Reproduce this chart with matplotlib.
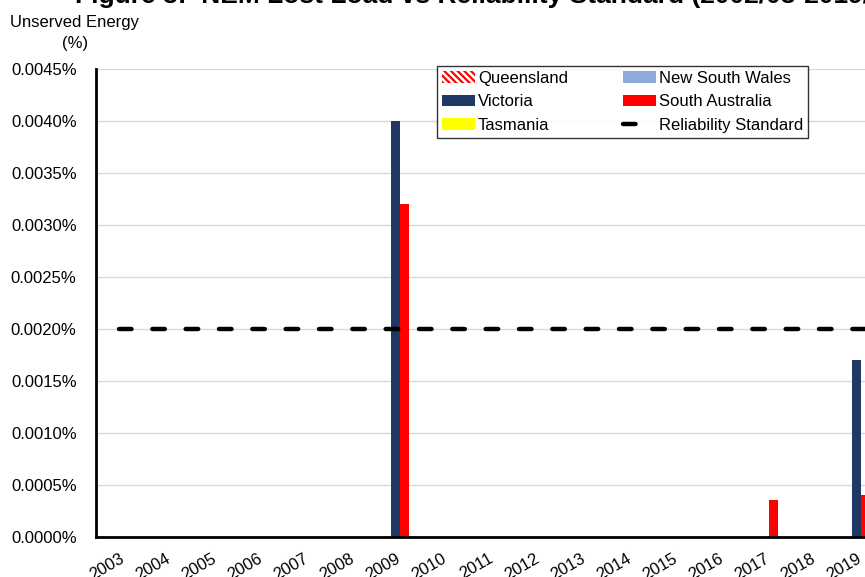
import numpy as np
import matplotlib.pyplot as plt
from matplotlib.ticker import FuncFormatter

plt.rcParams['font.family'] = ['Liberation Sans', 'DejaVu Sans']
plt.rcParams['lines.scale_dashes'] = False
plt.rcParams['hatch.color'] = 'red'
plt.rcParams['hatch.linewidth'] = 1.6

# financial years ending in ...
years = [str(y) for y in range(2003, 2021)]

# unserved energy, % of annual demand
queensland = [0, 0, 0, 0, 0, 0, 0, 0, 0, 0, 0, 0, 0, 0, 0, 0, 0, 0]
new_south_wales = [0, 0, 0, 0, 0, 0, 0, 0, 0, 0, 0, 0, 0, 0, 0, 0, 0, 0]
victoria = [0, 0, 0, 0, 0, 0, 0.0040, 0, 0, 0, 0, 0, 0, 0, 0, 0, 0.0017, 0]
south_australia = [0, 0, 0, 0, 0, 0, 0.0032, 0, 0, 0, 0, 0, 0, 0, 0.00036, 0, 0.0004, 0]
tasmania = [0, 0, 0, 0, 0, 0, 0, 0, 0, 0, 0, 0, 0, 0, 0, 0, 0, 0]
reliability_standard = [0.002] * len(years)

fig = plt.figure(figsize=(8.65, 5.77), dpi=100)
ax = fig.add_axes([96 / 865, 40 / 577, 18 * 46.1 / 865, 468 / 577])

x = np.arange(len(years))
w = 0.2
series = [
    ('Queensland', queensland, dict(color='white', edgecolor='red', hatch='\\\\\\\\\\', linewidth=0)),
    ('New South Wales', new_south_wales, dict(color='#8eaadb')),
    ('Victoria', victoria, dict(color='#203864')),
    ('South Australia', south_australia, dict(color='#ff0000')),
    ('Tasmania', tasmania, dict(color='#ffff00')),
]
handles = []
for i, (name, vals, style) in enumerate(series):
    b = ax.bar(x + (i - 2.5) * w + w / 2, vals, width=w, label=name, **style)
    handles.append(b)

line, = ax.plot(x, reliability_standard, color='black', linewidth=3.2,
                dash_capstyle='round', label='Reliability Standard')
line.set_dashes((9, 15))

ax.set_xlim(-0.5, len(years) - 0.5)
ax.set_ylim(0, 0.0045)
ax.set_yticks(np.arange(0, 0.00451, 0.0005))
ax.yaxis.set_major_formatter(FuncFormatter(lambda v, p: f'{v:.4f}%'))
ax.set_xticks(x)
ax.set_xticklabels(years, rotation=30, ha='right', rotation_mode='anchor')
ax.tick_params(axis='both', length=0, labelsize=12)
ax.tick_params(axis='y', pad=14)
ax.tick_params(axis='x', pad=10)

ax.grid(axis='y', color='#d9d9d9', linewidth=1)
ax.set_axisbelow(True)
for s in ['top', 'right']:
    ax.spines[s].set_visible(False)
for s in ['left', 'bottom']:
    ax.spines[s].set_linewidth(2)
    ax.spines[s].set_color('black')

fig.text(75 / 865, 1 - 33 / 577, 'Unserved Energy\n(%)', ha='center', va='center',
         fontsize=12, linespacing=1.5)
fig.text(75 / 865, 1 - 3 / 577, 'Figure 3:  NEM Lost Load vs Reliability Standard (2002/03-2019/20)',
         ha='left', va='baseline', fontsize=19, fontweight='bold')

order = [handles[0], handles[1], handles[2], handles[3], handles[4], line]
labels = ['Queensland', 'New South Wales', 'Victoria', 'South Australia', 'Tasmania',
          'Reliability Standard']
# legend fills column by column: Q, V, T | NSW, SA, RS
col_order = [0, 2, 4, 1, 3, 5]
leg = fig.legend([order[i] for i in col_order], [labels[i] for i in col_order],
                 ncol=2, loc='upper left', bbox_to_anchor=(437 / 865, 1 - 66 / 577),
                 frameon=True, fancybox=False, edgecolor='black', fontsize=12,
                 handlelength=2.0, handletextpad=0.15, columnspacing=3.3,
                 labelspacing=0.5, borderpad=0.3, borderaxespad=0)
leg.get_frame().set_linewidth(1)

fig.savefig('out.png', dpi=100)
